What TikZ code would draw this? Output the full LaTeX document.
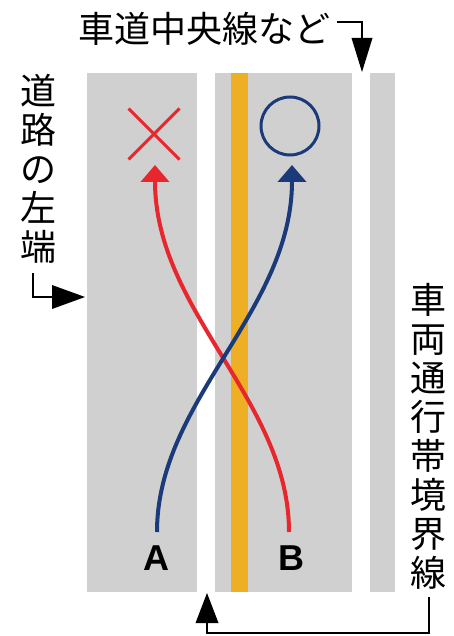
\documentclass[tikz,border=0pt]{standalone}
\usepackage{fontspec}
\setmainfont{Liberation Sans}
\newfontfamily\jpfont{Noto Sans CJK JP}
\usetikzlibrary{arrows.meta,shapes.misc}
\definecolor{lanegray}{HTML}{D0D0D0}
\definecolor{cline}{HTML}{EEAF25}
\definecolor{ngred}{HTML}{E8262D}
\definecolor{okblue}{HTML}{1B3A7A}
\tikzset{
  lane/.style={fill=lanegray, draw=none},
  jplabel/.style={font=\jpfont\fontsize{36}{39}\selectfont, inner sep=0pt, align=center},
  callout/.style={line width=1.8pt, line join=miter},
  calltip/.style={fill=black, draw=none},
  pathred/.style={draw=ngred, line width=4pt, -{Triangle[length=17pt,width=28pt]}},
  pathblue/.style={draw=okblue, line width=4pt, -{Triangle[length=17pt,width=28pt]}},
  letter/.style={font=\bfseries\fontsize{36}{36}\selectfont, inner sep=0pt}
}
\begin{document}
\begin{tikzpicture}[x=1pt,y=-1pt]
\useasboundingbox (0,0) rectangle (454,636);
% lanes
\fill[lane] (87,73) rectangle (197,592);
\fill[lane] (215,73) rectangle (352,592);
\fill[lane] (370,73) rectangle (395,592);
\fill[cline] (231,73) rectangle (248,592);
% marks
\node[cross out, draw=ngred, line width=3pt, minimum width=48pt, minimum height=48pt, inner sep=0pt] (ng) at (154,134) {};
\node[circle, draw=okblue, line width=3pt, minimum size=58pt, inner sep=0pt] (ok) at (290,126) {};
% start labels
\node[letter] (A) at (156,558) {A};
\node[letter] (B) at (291,558) {B};
\coordinate (Astart) at (157,532);
\coordinate (Bstart) at (289,532);
\coordinate (ngtip) at (155,165);
\coordinate (oktip) at (292,165);
% trajectories
\draw[pathred] (Bstart) .. controls (289,400) and (155,312) .. (ngtip);
\draw[pathblue] (Astart) .. controls (157,400) and (292,312) .. (oktip);
% labels
\node[jplabel] (top) at (204,29) {車道中央線など};
\node[jplabel] (left) at (38,169) {道\\路\\の\\左\\端};
\node[jplabel] (right) at (428,436) {車\\両\\通\\行\\帯\\境\\界\\線};
% callouts
\coordinate (topstart) at (337,22);
\coordinate (topbend) at (362,22);
\coordinate (topbase) at (362,40);
\coordinate (toptip) at (362,72);
\draw[callout] (topstart) -- (topbend) -- (topbase);
\fill[calltip] (351.5,38) -- (372.5,38) -- (toptip) -- cycle;
\coordinate (leftstart) at (33,273);
\coordinate (leftbend) at (33,297);
\coordinate (leftbase) at (54,297);
\coordinate (lefttip) at (85,297);
\draw[callout] (leftstart) -- (leftbend) -- (leftbase);
\fill[calltip] (52,285) -- (52,309) -- (lefttip) -- cycle;
\coordinate (botstart) at (429,597);
\coordinate (botbend1) at (429,633);
\coordinate (botbend2) at (207,633);
\coordinate (botbase) at (207,620);
\coordinate (bottip) at (207,593);
\draw[callout] (botstart) -- (botbend1) -- (botbend2) -- (botbase);
\fill[calltip] (195.5,623) -- (218.5,623) -- (bottip) -- cycle;
\end{tikzpicture}
\end{document}
